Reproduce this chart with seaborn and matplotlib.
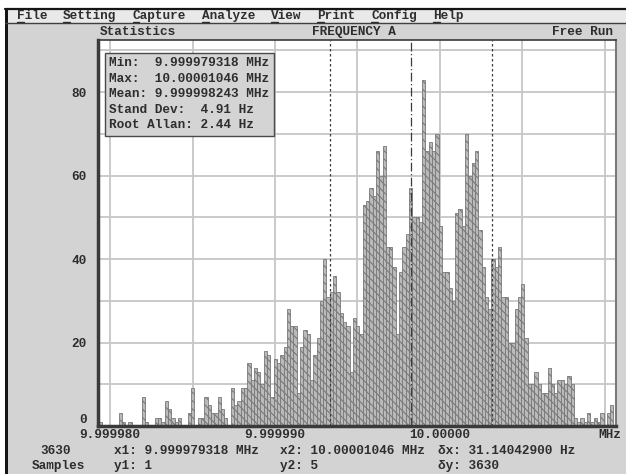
import numpy as np
import pandas as pd
import matplotlib
matplotlib.use('Agg')
import matplotlib.pyplot as plt
import seaborn as sns
from matplotlib.patches import Rectangle
from matplotlib.lines import Line2D

# counts per 0.2 Hz bin, starting at the minimum reading
counts = [1, 0, 0, 0, 0, 0, 3, 1, 0, 1,
          0, 0, 0, 7, 1, 0, 0, 2, 2, 1,
          6, 4, 2, 1, 2, 0, 0, 3, 9, 0,
          2, 2, 7, 5, 3, 3, 7, 4, 2, 0,
          9, 5, 6, 9, 9, 15, 11, 14, 13, 10,
          18, 17, 7, 16, 15, 17, 19, 28, 24, 24,
          8, 19, 23, 22, 11, 17, 21, 30, 40, 31,
          32, 36, 32, 27, 25, 24, 13, 26, 24, 22,
          53, 54, 57, 55, 66, 60, 67, 43, 43, 38,
          22, 37, 43, 46, 57, 50, 50, 49, 83, 66,
          68, 66, 70, 48, 37, 37, 33, 30, 51, 52,
          48, 70, 60, 63, 66, 47, 38, 31, 28, 40,
          38, 43, 31, 31, 20, 20, 28, 31, 34, 21,
          10, 10, 13, 10, 8, 8, 14, 10, 8, 11,
          11, 10, 12, 10, 2, 1, 2, 1, 3, 1,
          2, 1, 3, 0, 3, 5]
bin_width = 0.2          # Hz
f_min = 9.999979318      # MHz
f_max = 10.00001046
f_mean = 9.999998243
std_hz = 4.91
allan_hz = 2.44
dx_hz = '31.14042900'
f_ref = 9.999980         # MHz at the first labelled gridline
n_samples = 3630

xtick_vals = [0, 5, 10, 15, 20, 25, 30]
xtick_labels = ['9.999980', '', '9.999990', '', '10.00000', '', '']
ytick_vals = list(range(0, 91, 10))
ytick_labels = ['0', '', '20', '', '40', '', '60', '', '80', '']

menu_items = ['File', 'Setting', 'Capture', 'Analyze', 'View', 'Print', 'Config', 'Help']

stats_lines = ['Min:  %.9f MHz' % f_min,
               'Max:  %.8f MHz' % f_max,
               'Mean: %.9f MHz' % f_mean,
               'Stand Dev:  %.2f Hz' % std_hz,
               'Root Allan: %.2f Hz' % allan_hz]

# bins in Hz relative to f_ref
start = (f_min - f_ref) * 1e6
edges = start + bin_width * np.arange(len(counts) + 1)
centers = (edges[:-1] + edges[1:]) / 2
df = pd.DataFrame({'hz': centers, 'count': counts})

sns.set_style('white')
plt.rcParams['font.family'] = ['Liberation Mono', 'DejaVu Sans Mono']
plt.rcParams['font.weight'] = 'bold'
plt.rcParams['hatch.linewidth'] = 0.8
TXT = '#2e2e2e'
FS = 9.2
CH = 7.7   # character cell width in pixels
W, H = 626, 474

def fx(px):
    return px / W

def fy(py):
    return 1 - py / H

fig = plt.figure(figsize=(6.26, 4.74), dpi=100)
fig.patch.set_facecolor('#d3d3d3')

# screen chrome: white margin, border, menu bar
fig.add_artist(Rectangle((0, fy(8)), 1, 8 / H, transform=fig.transFigure,
                         facecolor='white', edgecolor='none'))
fig.add_artist(Rectangle((0, 0), 5 / W, 1, transform=fig.transFigure,
                         facecolor='white', edgecolor='none'))
fig.add_artist(Rectangle((5 / W, fy(23)), 1, 14 / H, transform=fig.transFigure,
                         facecolor='#e9e9e9', edgecolor='none'))
fig.add_artist(Line2D([5 / W, 1], [fy(8.5), fy(8.5)], transform=fig.transFigure, color='#151515', lw=1.6))
fig.add_artist(Line2D([5 / W, 1], [fy(23), fy(23)], transform=fig.transFigure, color='#404040', lw=1))
fig.add_artist(Rectangle((5 / W, 0), 3 / W, fy(8), transform=fig.transFigure,
                         facecolor='#151515', edgecolor='none'))

# menu with underlined hotkey letters
cx = 17
for name in menu_items:
    fig.text(fx(cx), fy(16), name, fontsize=FS, color=TXT, va='center', ha='left')
    fig.add_artist(Line2D([fx(cx), fx(cx + CH - 1)], [fy(21.5), fy(21.5)],
                          transform=fig.transFigure, color=TXT, lw=1))
    cx += (len(name) + 2) * CH

fig.text(fx(100), fy(32), 'Statistics', fontsize=FS, color=TXT, va='center')
fig.text(fx(312), fy(32), 'FREQUENCY A', fontsize=FS, color=TXT, va='center')
fig.text(fx(613), fy(32), 'Free Run', fontsize=FS, color=TXT, va='center', ha='right')

ax = fig.add_axes([fx(98), fy(426), fx(616) - fx(98), (426 - 40) / H])
ax.set_facecolor('white')
sns.histplot(data=df, x='hz', weights='count', bins=list(edges), ax=ax,
             color='#bababa', edgecolor='#787878', linewidth=0.6,
             hatch='\\\\\\\\', alpha=1)

ax.set_xlim(-0.73, 30.67)
ax.set_ylim(0, 92.5)
ax.set_xticks(xtick_vals, xtick_labels)
ax.set_yticks(ytick_vals, ytick_labels)
ax.grid(True, color='#c6c6c6', lw=1.3)
ax.set_axisbelow(True)
ax.tick_params(length=0, labelsize=FS, labelcolor=TXT)
ax.tick_params(axis='x', pad=2)
ax.tick_params(axis='y', pad=8)
ax.get_yticklabels()[0].set_va('bottom')
ax.set_xlabel('')
ax.set_ylabel('')
for side, lw, c in [('left', 2.5, '#3a3a3a'), ('bottom', 2.5, '#3a3a3a'),
                    ('top', 1.2, '#3a3a3a'), ('right', 1.5, '#7a7a7a')]:
    ax.spines[side].set_color(c)
    ax.spines[side].set_linewidth(lw)

# mean and +/- one standard deviation markers
mean_x = (f_mean - f_ref) * 1e6
ax.axvline(mean_x, color='#3c3c3c', lw=0.9, ls=(0, (7, 2, 1, 2)), zorder=5)
for s in (-1, 1):
    ax.axvline(mean_x + s * std_hz, color='#3c3c3c', lw=0.9, ls=(0, (2, 2)), zorder=5)

fig.text(fx(109), fy(57), '\n'.join(stats_lines), fontsize=FS, color=TXT,
         va='top', ha='left', linespacing=1.4, zorder=10,
         bbox=dict(boxstyle='square,pad=0.35', facecolor='#d4d4d4',
                   edgecolor='#4a4a4a', lw=1))

fig.text(fx(621), fy(435), 'MHz', fontsize=FS, color=TXT, va='center', ha='right')

# cursor readout rows
row1, row2 = 451, 466
fig.text(fx(40), fy(row1), str(n_samples), fontsize=FS, color=TXT, va='center')
fig.text(fx(114), fy(row1), 'x1: %.9f MHz' % f_min, fontsize=FS, color=TXT, va='center')
fig.text(fx(280), fy(row1), 'x2: %.8f MHz' % f_max, fontsize=FS, color=TXT, va='center')
fig.text(fx(438), fy(row1), '\u03b4x: %s Hz' % dx_hz, fontsize=FS, color=TXT, va='center')
fig.text(fx(32), fy(row2), 'Samples', fontsize=FS, color=TXT, va='center')
fig.text(fx(114), fy(row2), 'y1: 1', fontsize=FS, color=TXT, va='center')
fig.text(fx(280), fy(row2), 'y2: 5', fontsize=FS, color=TXT, va='center')
fig.text(fx(438), fy(row2), '\u03b4y: %d' % n_samples, fontsize=FS, color=TXT, va='center')

fig.savefig('out.png', dpi=100, facecolor=fig.get_facecolor())
